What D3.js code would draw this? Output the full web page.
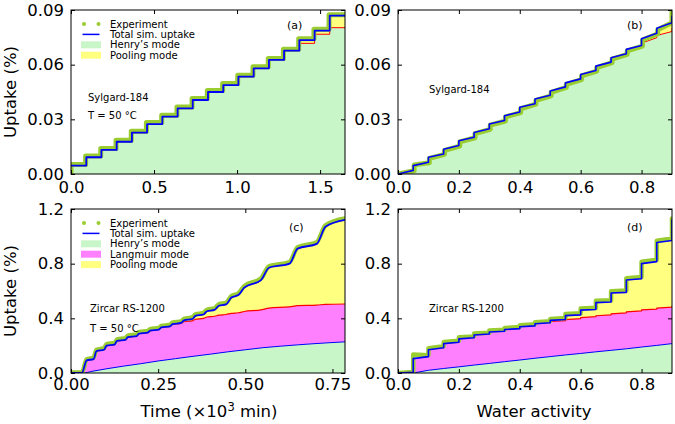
<!DOCTYPE html>
<html>
<head>
<meta charset="utf-8">
<script src="https://cdn.jsdelivr.net/npm/d3@7"></script>
<style>
  body { margin: 0; background: #fff; }
  svg { display: block; font-family: "DejaVu Sans", sans-serif; }
</style>
</head>
<body>
<svg id="chart" width="675" height="424"></svg>
<script>
// ---- panel (a): Sylgard-184, uptake vs time (x10^3 min) ----
var aStepTime = [0, 0.092, 0.183, 0.275, 0.367, 0.458, 0.550, 0.642, 0.733, 0.825, 0.917, 1.008, 1.100, 1.192, 1.283, 1.375, 1.467, 1.558];
var aTotal    = [0.0046, 0.0092, 0.0132, 0.0177, 0.0227, 0.0274, 0.0315, 0.0360, 0.0406, 0.0450, 0.0488, 0.0534, 0.0580, 0.0626, 0.0677, 0.0735, 0.0787, 0.0869];
var aHenry    = [0.0046, 0.0092, 0.0132, 0.0177, 0.0227, 0.0274, 0.0315, 0.0360, 0.0406, 0.0450, 0.0488, 0.0534, 0.0580, 0.0626, 0.0677, 0.0717, 0.0767, 0.0803];
var aExpTime  = [0, 0.088, 0.179, 0.271, 0.363, 0.454, 0.546, 0.638, 0.729, 0.821, 0.913, 1.004, 1.096, 1.188, 1.279, 1.371, 1.463, 1.554];
var aExp      = [0.0052, 0.0099, 0.0140, 0.0185, 0.0235, 0.0282, 0.0323, 0.0368, 0.0414, 0.0458, 0.0496, 0.0542, 0.0588, 0.0634, 0.0685, 0.0742, 0.0794, 0.0874];

// ---- panel (b): Sylgard-184, uptake vs water activity ----
var bAct      = [0.05, 0.10, 0.15, 0.20, 0.25, 0.30, 0.35, 0.40, 0.45, 0.50, 0.55, 0.60, 0.65, 0.70, 0.75, 0.80, 0.85, 0.90];
var bTotalLo  = [0.0020, 0.0064, 0.0110, 0.0156, 0.0202, 0.0248, 0.0294, 0.0340, 0.0386, 0.0432, 0.0478, 0.0522, 0.0568, 0.0614, 0.0660, 0.0705, 0.0772, 0.0830];
var bTotalHi  = [0.0046, 0.0092, 0.0136, 0.0182, 0.0228, 0.0274, 0.0320, 0.0366, 0.0412, 0.0456, 0.0500, 0.0546, 0.0592, 0.0638, 0.0684, 0.0742, 0.0800, 0.0865];
var bHenryLo  = [0.0020, 0.0064, 0.0110, 0.0156, 0.0202, 0.0248, 0.0294, 0.0340, 0.0386, 0.0432, 0.0478, 0.0522, 0.0568, 0.0614, 0.0660, 0.0700, 0.0748, 0.0782];
var bHenryHi  = [0.0046, 0.0092, 0.0136, 0.0182, 0.0228, 0.0274, 0.0320, 0.0366, 0.0412, 0.0456, 0.0500, 0.0546, 0.0592, 0.0638, 0.0684, 0.0718, 0.0760, 0.0800];
var bExpAct   = [0.053, 0.103, 0.153, 0.203, 0.253, 0.303, 0.353, 0.403, 0.453, 0.503, 0.553, 0.603, 0.653, 0.703, 0.753, 0.803, 0.853, 0.900];
var bExpLo    = [0.0018, 0.0062, 0.0108, 0.0153, 0.0199, 0.0245, 0.0291, 0.0337, 0.0383, 0.0429, 0.0475, 0.0518, 0.0565, 0.0611, 0.0657, 0.0702, 0.0770, 0.0830];
var bExpHi    = [0.0050, 0.0086, 0.0130, 0.0176, 0.0222, 0.0268, 0.0313, 0.0358, 0.0404, 0.0448, 0.0492, 0.0538, 0.0584, 0.0630, 0.0676, 0.0735, 0.0792, 0.0890];

// ---- panel (c): Zircar RS-1200, uptake vs time (x10^3 min) ----
var cTime     = [0, 0.031, 0.045, 0.065, 0.073, 0.095, 0.102, 0.125, 0.132, 0.156, 0.163, 0.188, 0.195, 0.220, 0.227, 0.252, 0.259, 0.284, 0.291, 0.316, 0.324, 0.348, 0.357, 0.380, 0.390, 0.412, 0.424, 0.445, 0.460, 0.480, 0.497, 0.545, 0.568, 0.627, 0.650, 0.705, 0.730, 0.786];
var cTotal    = [0, 0, 0.092, 0.102, 0.160, 0.170, 0.200, 0.208, 0.235, 0.243, 0.262, 0.270, 0.288, 0.295, 0.310, 0.318, 0.333, 0.341, 0.357, 0.366, 0.385, 0.395, 0.418, 0.428, 0.452, 0.462, 0.492, 0.502, 0.552, 0.570, 0.625, 0.680, 0.770, 0.800, 0.910, 0.945, 1.070, 1.120];
var cLangTop  = [0, 0, 0.092, 0.102, 0.160, 0.170, 0.200, 0.208, 0.235, 0.243, 0.262, 0.270, 0.288, 0.295, 0.310, 0.318, 0.333, 0.341, 0.355, 0.362, 0.375, 0.382, 0.393, 0.400, 0.410, 0.415, 0.423, 0.428, 0.436, 0.441, 0.450, 0.462, 0.475, 0.484, 0.493, 0.497, 0.502, 0.505];
var cExp      = [0.004, 0.004, 0.100, 0.114, 0.170, 0.182, 0.211, 0.220, 0.246, 0.255, 0.273, 0.282, 0.299, 0.307, 0.321, 0.330, 0.344, 0.353, 0.368, 0.378, 0.396, 0.407, 0.429, 0.440, 0.463, 0.474, 0.503, 0.514, 0.563, 0.582, 0.636, 0.692, 0.781, 0.812, 0.920, 0.957, 1.080, 1.130];
var cHenryTime = [0, 0.035, 0.060, 0.100, 0.150, 0.200, 0.250, 0.300, 0.350, 0.400, 0.450, 0.500, 0.550, 0.600, 0.650, 0.700, 0.786];
var cHenry     = [0, 0, 0.012, 0.030, 0.050, 0.068, 0.088, 0.105, 0.122, 0.138, 0.155, 0.170, 0.185, 0.196, 0.206, 0.215, 0.228];

// ---- panel (d): Zircar RS-1200, uptake vs water activity ----
var dAct      = [0.05, 0.10, 0.15, 0.20, 0.25, 0.30, 0.35, 0.40, 0.45, 0.50, 0.55, 0.60, 0.65, 0.70, 0.75, 0.80, 0.85, 0.90];
var dTotalLo  = [0.005, 0.120, 0.185, 0.225, 0.258, 0.285, 0.305, 0.325, 0.345, 0.368, 0.392, 0.425, 0.465, 0.520, 0.590, 0.690, 0.815, 0.970];
var dTotalHi  = [0.105, 0.170, 0.215, 0.250, 0.278, 0.300, 0.318, 0.338, 0.360, 0.385, 0.420, 0.460, 0.515, 0.585, 0.680, 0.800, 0.955, 1.120];
var dLangLo   = [0.005, 0.120, 0.185, 0.225, 0.258, 0.285, 0.305, 0.325, 0.345, 0.368, 0.383, 0.398, 0.412, 0.426, 0.440, 0.455, 0.468, 0.482];
var dLangHi   = [0.105, 0.170, 0.215, 0.250, 0.278, 0.300, 0.318, 0.338, 0.360, 0.378, 0.390, 0.405, 0.419, 0.433, 0.447, 0.462, 0.475, 0.490];
var dHenry    = [0, 0.020, 0.033, 0.045, 0.058, 0.070, 0.083, 0.095, 0.108, 0.120, 0.132, 0.143, 0.155, 0.166, 0.177, 0.190, 0.202, 0.215];
var dExpLo    = [0.008, 0.130, 0.196, 0.236, 0.268, 0.295, 0.316, 0.336, 0.356, 0.379, 0.403, 0.437, 0.477, 0.532, 0.603, 0.703, 0.828, 0.985];
var dExpHi    = [0.135, 0.182, 0.226, 0.261, 0.289, 0.311, 0.329, 0.349, 0.371, 0.396, 0.432, 0.472, 0.528, 0.598, 0.694, 0.814, 0.968, 1.130];

// tick labels
var aXTicks = [0, 0.5, 1.0, 1.5], aYTicks = [0, 0.03, 0.06, 0.09];
var bXTicks = [0, 0.2, 0.4, 0.6, 0.8];
var cXTicks = [0, 0.25, 0.5, 0.75], cYTicks = [0, 0.4, 0.8, 1.2];

var col = {henry: '#c8f6c8', lang: '#ff80ff', pool: '#ffff80', blue: '#0000ff', red: '#ff0000', exp: '#9acd32'};
var svg = d3.select('#chart');

//build a panel: scales, clip, and a group for the marks
function makePanel(id, left, top, w, h, xMax, yMax) {
  var g = svg.append('g').attr('transform', 'translate(' + left + ',' + top + ')');
  svg.append('clipPath').attr('id', 'clip-' + id)
    .append('rect').attr('width', w).attr('height', h);
  var x = d3.scaleLinear().domain([0, xMax]).range([0, w]);
  var y = d3.scaleLinear().domain([0, yMax]).range([h, 0]);
  var marks = g.append('g').attr('clip-path', 'url(#clip-' + id + ')');
  return {g: g, marks: marks, x: x, y: y, w: w, h: h};
}

//frame with inward ticks on all four sides
function drawAxes(p, xTicks, yTicks, xFmt, yFmt, xPad) {
  var ax = p.g.append('g').attr('transform', 'translate(0,' + p.h + ')')
    .call(d3.axisBottom(p.x).tickValues(xTicks).tickFormat(d3.format(xFmt)).tickSizeInner(-4).tickSizeOuter(0).tickPadding(xPad));
  var ay = p.g.append('g')
    .call(d3.axisLeft(p.y).tickValues(yTicks).tickFormat(d3.format(yFmt)).tickSizeInner(-4).tickSizeOuter(0).tickPadding(7));
  var at = p.g.append('g')
    .call(d3.axisTop(p.x).tickValues(xTicks).tickFormat('').tickSizeInner(-4).tickSizeOuter(0));
  var ar = p.g.append('g').attr('transform', 'translate(' + p.w + ',0)')
    .call(d3.axisRight(p.y).tickValues(yTicks).tickFormat('').tickSizeInner(-4).tickSizeOuter(0));
  [ax, ay, at, ar].forEach(function(a) {
    a.select('.domain').remove();
    a.selectAll('line').attr('stroke', '#000').attr('stroke-width', 1);
    a.selectAll('text').attr('font-family', 'DejaVu Sans').attr('font-size', 16.5).attr('fill', '#000');
  });
  p.g.append('rect').attr('width', p.w).attr('height', p.h)
    .attr('fill', 'none').attr('stroke', '#000').attr('stroke-width', 1);
}

//points for a curve that jumps from lo to hi at each x
function jumpPoints(xs, lo, hi) {
  var pts = [[0, 0]];
  xs.forEach(function(v, i) { pts.push([v, lo[i]]); pts.push([v, hi[i]]); });
  return pts;
}

function zip(xs, ys) { return xs.map(function(v, i) { return [v, ys[i]]; }); }

function fill(p, pts, color, curve) {
  p.marks.append('path').datum(pts)
    .attr('fill', color).attr('stroke', 'none')
    .attr('d', d3.area().curve(curve).x(function(d) { return p.x(d[0]); }).y0(p.y(0)).y1(function(d) { return p.y(d[1]); }));
}

function line(p, pts, color, width, curve) {
  p.marks.append('path').datum(pts)
    .attr('fill', 'none').attr('stroke', color).attr('stroke-width', width)
    .attr('stroke-linejoin', 'round').attr('stroke-linecap', 'round')
    .attr('d', d3.line().curve(curve).x(function(d) { return p.x(d[0]); }).y(function(d) { return p.y(d[1]); }));
}

function legend(p, items) {
  var lg = p.g.append('g').attr('transform', 'translate(10,14)');
  items.forEach(function(it, i) {
    var r = lg.append('g').attr('transform', 'translate(0,' + (i * 10.4) + ')');
    if (it.type == 'dots') {
      r.append('circle').attr('cx', 3).attr('cy', 0).attr('r', 2).attr('fill', col.exp);
      r.append('circle').attr('cx', 17.5).attr('cy', 0).attr('r', 2).attr('fill', col.exp);
    } else if (it.type == 'line') {
      r.append('line').attr('x1', 1.5).attr('x2', 18.5).attr('y1', 0).attr('y2', 0)
        .attr('stroke', col.blue).attr('stroke-width', 1.5);
    } else {
      r.append('rect').attr('x', 0).attr('y', -3.5).attr('width', 20).attr('height', 7).attr('fill', it.color);
    }
    r.append('text').attr('x', 29).attr('y', 0).attr('dy', '0.35em')
      .attr('font-size', 10).text(it.label);
  });
}

function note(p, x, y, txt, size) {
  p.g.append('text').attr('x', x).attr('y', y).attr('dy', '0.35em')
    .attr('font-size', size).text(txt);
}

// ---------------- panel (a) ----------------
var pa = makePanel('a', 71, 10, 274, 164, 1.65, 0.09);
var aTot = zip(aStepTime, aTotal).concat([[1.65, aTotal[aTotal.length - 1]]]);
var aHen = zip(aStepTime, aHenry).concat([[1.65, aHenry[aHenry.length - 1]]]);
var aEx = [[0, 0]].concat(zip(aExpTime, aExp)).concat([[1.65, aExp[aExp.length - 1]]]);
fill(pa, aTot, col.pool, d3.curveStepAfter);
fill(pa, aHen, col.henry, d3.curveStepAfter);
line(pa, aHen, col.red, 1, d3.curveStepAfter);
line(pa, aEx, col.exp, 5, d3.curveStepAfter);
line(pa, aTot, col.blue, 1.8, d3.curveStepAfter);
drawAxes(pa, aXTicks, aYTicks, '.1f', '.2f', 7);
legend(pa, [
  {type: 'dots', label: 'Experiment'},
  {type: 'line', label: 'Total sim. uptake'},
  {type: 'patch', color: col.henry, label: 'Henry\u2019s mode'},
  {type: 'patch', color: col.pool, label: 'Pooling mode'}
]);
note(pa, 216, 15, '(a)', 11);
note(pa, 17, 87, 'Sylgard-184', 10);
note(pa, 17, 105, 'T = 50 \u00b0C', 10);

// ---------------- panel (b) ----------------
var pb = makePanel('b', 398, 10, 274, 164, 0.9, 0.09);
var bTot = jumpPoints(bAct, bTotalLo, bTotalHi);
var bHen = jumpPoints(bAct, bHenryLo, bHenryHi);
var bEx = jumpPoints(bExpAct, bExpLo, bExpHi);
fill(pb, bTot, col.pool, d3.curveLinear);
fill(pb, bHen, col.henry, d3.curveLinear);
line(pb, bHen, col.red, 1, d3.curveLinear);
line(pb, bEx, col.exp, 5, d3.curveLinear);
line(pb, bTot, col.blue, 1.6, d3.curveLinear);
drawAxes(pb, bXTicks, aYTicks, '.1f', '.2f', 7);
note(pb, 229, 15, '(b)', 11);
note(pb, 31, 79, 'Sylgard-184', 10);

// ---------------- panel (c) ----------------
var pc = makePanel('c', 71, 209, 274, 164, 0.786, 1.2);
var cTot = zip(cTime, cTotal);
var cLang = zip(cTime, cLangTop);
var cHen = zip(cHenryTime, cHenry);
var cEx = zip(cTime, cExp);
fill(pc, cTot, col.pool, d3.curveMonotoneX);
fill(pc, cLang, col.lang, d3.curveMonotoneX);
fill(pc, cHen, col.henry, d3.curveMonotoneX);
line(pc, cLang, col.red, 1.2, d3.curveMonotoneX);
line(pc, cHen, col.blue, 1, d3.curveMonotoneX);
line(pc, cEx, col.exp, 4.5, d3.curveMonotoneX);
line(pc, cTot, col.blue, 1.8, d3.curveMonotoneX);
drawAxes(pc, cXTicks, cYTicks, '.2f', '.1f', 5);
legend(pc, [
  {type: 'dots', label: 'Experiment'},
  {type: 'line', label: 'Total sim. uptake'},
  {type: 'patch', color: col.henry, label: 'Henry\u2019s mode'},
  {type: 'patch', color: col.lang, label: 'Langmuir mode'},
  {type: 'patch', color: col.pool, label: 'Pooling mode'}
]);
note(pc, 218, 18, '(c)', 11);
note(pc, 19, 99, 'Zircar RS-1200', 10);
note(pc, 19, 119, 'T = 50 \u00b0C', 10);

// ---------------- panel (d) ----------------
var pd = makePanel('d', 398, 209, 274, 164, 0.9, 1.2);
var dTot = jumpPoints(dAct, dTotalLo, dTotalHi);
var dLang = [[0, 0]].concat(jumpPoints(dAct, dLangLo, dLangHi).slice(1));
var dHen = [[0, 0]].concat(zip(dAct, dHenry));
var dEx = jumpPoints(dAct, dExpLo, dExpHi);
fill(pd, dTot, col.pool, d3.curveLinear);
fill(pd, dLang, col.lang, d3.curveLinear);
fill(pd, dHen, col.henry, d3.curveLinear);
line(pd, dLang.slice(19), col.red, 1.2, d3.curveLinear);
line(pd, dHen.slice(1), col.blue, 1, d3.curveLinear);
line(pd, dEx, col.exp, 4.5, d3.curveLinear);
line(pd, dTot, col.blue, 1.6, d3.curveLinear);
drawAxes(pd, bXTicks, cYTicks, '.1f', '.1f', 5);
note(pd, 229, 18, '(d)', 11);
note(pd, 31, 99, 'Zircar RS-1200', 10);

// ---------------- axis titles ----------------
[92, 291].forEach(function(cy) {
  svg.append('text').attr('transform', 'translate(16,' + cy + ') rotate(-90)')
    .attr('text-anchor', 'middle').attr('font-size', 16.5).text('Uptake (%)');
});
var tx = svg.append('text').attr('x', 209).attr('y', 417).attr('text-anchor', 'middle').attr('font-size', 16.5);
tx.append('tspan').text('Time (\u00d710');
tx.append('tspan').attr('dy', -6).attr('font-size', 11.5).text('3');
tx.append('tspan').attr('dy', 6).text(' min)');
svg.append('text').attr('x', 534).attr('y', 417).attr('text-anchor', 'middle').attr('font-size', 16.5).text('Water activity');
</script>
</body>
</html>
